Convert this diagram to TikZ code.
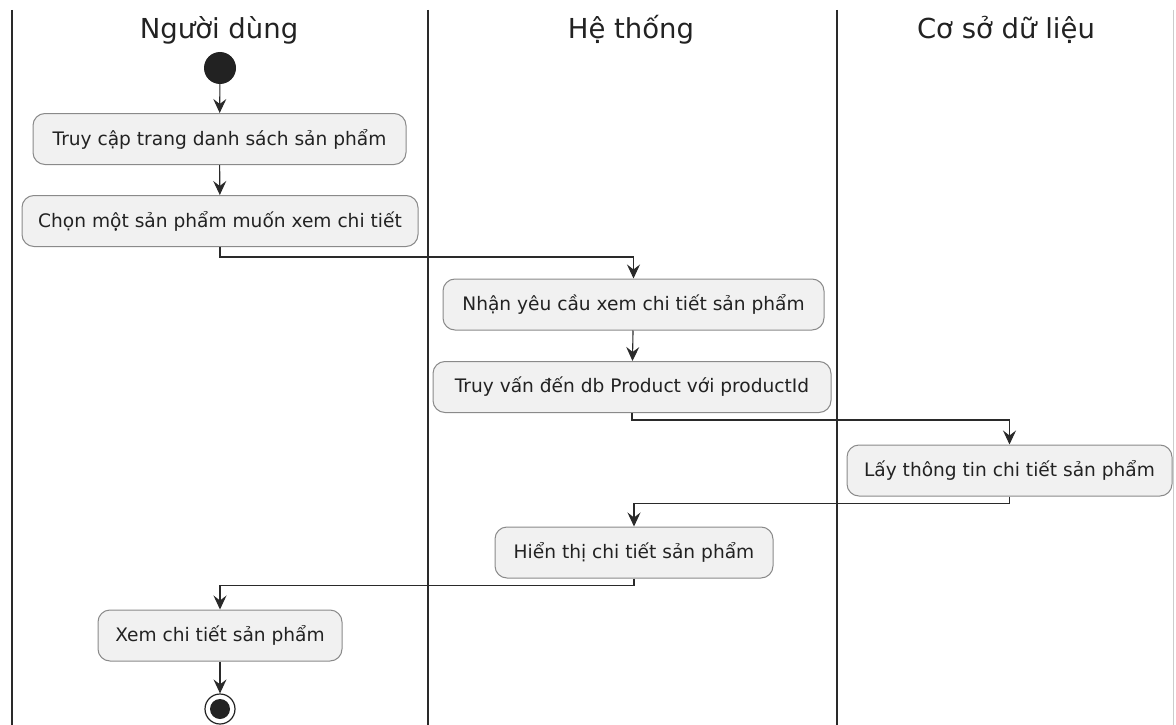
\documentclass[tikz,border=0pt]{standalone}
\usepackage{fontspec}
\setmainfont{DejaVu Sans}
\usetikzlibrary{arrows.meta}
\definecolor{boxfill}{HTML}{F1F1F1}
\definecolor{boxline}{HTML}{8A8A8A}
\definecolor{ink}{HTML}{222222}
\definecolor{lane}{HTML}{2A2A2A}
\tikzset{
  act/.style={draw=boxline, fill=boxfill, line width=1pt, rounded corners=12pt,
    minimum height=51pt, inner sep=0pt, text=ink, font=\fontsize{18.6}{21}\selectfont},
  flow/.style={draw=lane, line width=1.1pt, -{Stealth[length=14pt,width=13pt,inset=5pt]}},
  lanetitle/.style={text=ink, font=\fontsize{27.5}{31}\selectfont},
  laneline/.style={draw=lane, line width=1.4pt},
}
\begin{document}
\begin{tikzpicture}[x=1pt,y=-1pt]
\useasboundingbox (0,0) rectangle (1176,725);
% swimlane separators
\draw[laneline] (12,10) -- (12,725);
\draw[laneline] (428,10) -- (428,725);
\draw[laneline] (837,10) -- (837,725);
\draw[draw=gray!40, line width=1pt] (1173,10) -- (1173,725);
% lane titles
\node[lanetitle] (t1) at (219,30) {Người dùng};
\node[lanetitle] (t2) at (631,30) {Hệ thống};
\node[lanetitle] (t3) at (1006,30) {Cơ sở dữ liệu};
% start node
\node[circle, fill=ink, minimum size=32pt, inner sep=0pt] (start) at (220,68) {};
% actions
\node[act, minimum width=373pt] (b1) at (219.5,139) {Truy cập trang danh sách sản phẩm};
\node[act, minimum width=396pt] (b2) at (220,221) {Chọn một sản phẩm muốn xem chi tiết};
\node[act, minimum width=381pt] (b3) at (633.5,304.5) {Nhận yêu cầu xem chi tiết sản phẩm};
\node[act, minimum width=398pt] (b4) at (632,387) {Truy vấn đến db Product với productId};
\node[act, minimum width=325pt] (b5) at (1009.5,470.5) {Lấy thông tin chi tiết sản phẩm};
\node[act, minimum width=278pt] (b6) at (634,552.5) {Hiển thị chi tiết sản phẩm};
\node[act, minimum width=244pt] (b7) at (220,635.5) {Xem chi tiết sản phẩm};
% end node
\node[circle, draw=ink, line width=1.2pt, fill=white, minimum size=30pt, inner sep=0pt] (stop) at (220,709) {};
\node[circle, fill=ink, minimum size=20pt, inner sep=0pt] (stopdot) at (stop.center) {};
% control flow
\draw[flow] (start) -- (b1);
\draw[flow] (b1) -- (b2);
\draw[flow] (b2.south) -- ++(0,10) -| (b3.north);
\draw[flow] (b3) -- (b4);
\draw[flow] (b4.south) -- ++(0,7) -| (b5.north);
\draw[flow] (b5.south) -- ++(0,7) -| (b6.north);
\draw[flow] (b6.south) -- ++(0,7) -| (b7.north);
\draw[flow] (b7) -- (stop);
\end{tikzpicture}
\end{document}
